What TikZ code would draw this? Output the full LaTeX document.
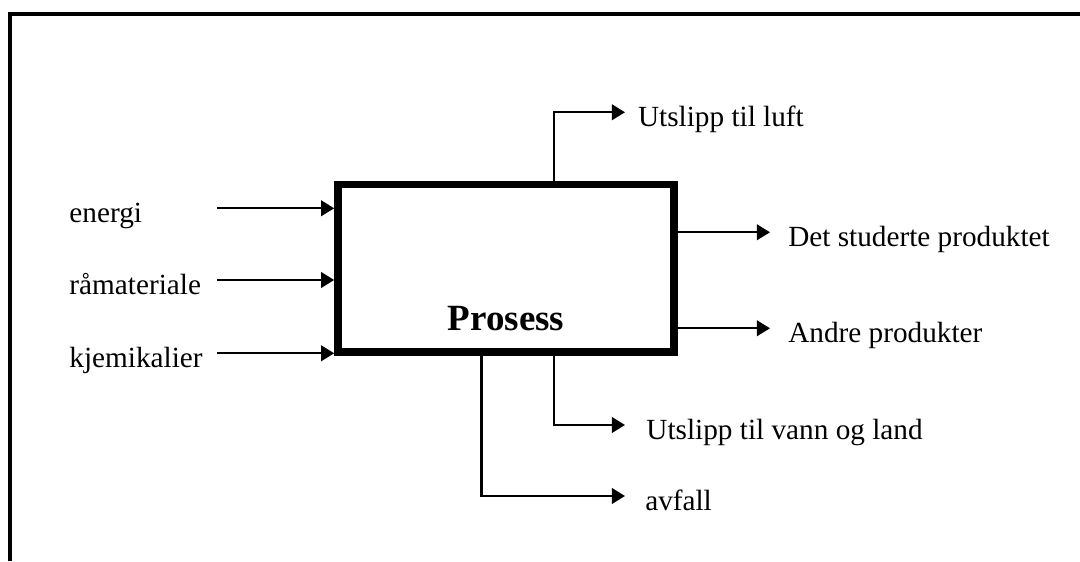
\documentclass[tikz,border=0pt]{standalone}
\usepackage{fontspec}
\setmainfont{Liberation Serif}
\usetikzlibrary{arrows.meta, positioning, calc}

\begin{document}
\begin{tikzpicture}[>={Triangle[length=0.33cm,width=0.39cm]},
        flow/.style={line width=0.06cm},
        procbox/.style={draw,line width=0.19cm,minimum width=8.4cm,minimum height=4.19cm},
        lbl/.style={font=\fontsize{20.8pt}{24pt}\selectfont,inner ysep=0pt,
        text height=0.72cm,text depth=0cm},
        inlbl/.style={lbl,anchor=west,inner xsep=0pt},
        outlbl/.style={lbl,anchor=west,inner xsep=0.32cm}]
      \useasboundingbox (0,0) rectangle (27,14.025);
      % frame
      \draw[line width=0.1cm] (0.2375,0) |- (27,13.675);
      % process
      \node[procbox] (box) at (12.65,7.319) {};
      \node[font=\fontsize{26.3pt}{30pt}\selectfont\bfseries,anchor=base] (title)
        at ([yshift=0.64cm]box.south) {Prosess};
      % inputs
      \node[inlbl] (energi) at (1.73,8.818) {energi};
      \node[inlbl] (raa) at (1.73,7.025) {råmateriale};
      \node[inlbl] (kjemi) at (1.73,5.193) {kjemikalier};
      \coordinate (inE) at (5.42,8.818);
      \coordinate (inR) at (5.42,7.025);
      \coordinate (inK) at (5.42,5.193);
      \draw[flow,->] (inE) -- (inE -| box.west);
      \draw[flow,->] (inR) -- (inR -| box.west);
      \draw[flow,->] (inK) -- (inK -| box.west);
      % outputs
      \node[outlbl] (luft) at (15.625,11.218) {Utslipp til luft};
      \node[outlbl,inner xsep=0.45cm] (prod) at (19.25,8.218) {Det studerte produktet};
      \node[outlbl,inner xsep=0.45cm] (andre) at (19.25,5.818) {Andre produkter};
      \node[outlbl,inner xsep=0.53cm] (vann) at (15.625,3.4) {Utslipp til vann og land};
      \node[outlbl,inner xsep=0.5cm] (avfall) at (15.625,1.625) {avfall};
      \draw[flow,->] ([xshift=1.2cm]box.north) |- (luft.west);
      \draw[flow,->] (box.east |- prod.west) -- (prod.west);
      \draw[flow,->] (box.east |- andre.west) -- (andre.west);
      \draw[flow,->] ([xshift=1.2cm]box.south) |- (vann.west);
      \draw[flow,->] ([xshift=-0.61cm]box.south) |- (avfall.west);
    \end{tikzpicture}
\end{document}
